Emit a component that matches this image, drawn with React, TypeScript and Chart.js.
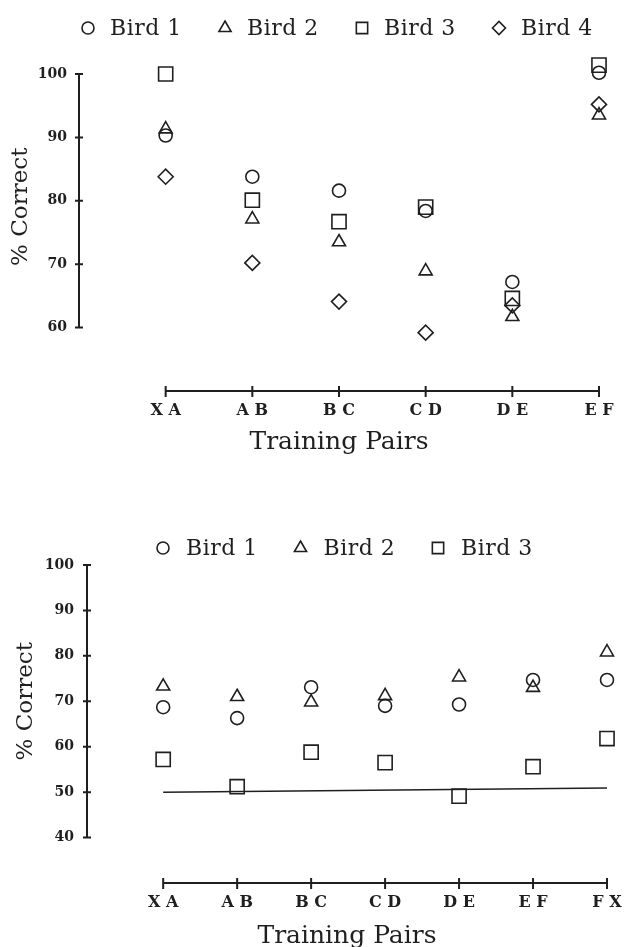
import React, { useEffect, useRef } from 'react';
import { Chart, registerables } from 'chart.js';
import { drawPoint } from 'chart.js/helpers';

Chart.register(...registerables);

// ---------- data: upper panel ----------
const topPairs = ['XA', 'AB', 'BC', 'CD', 'DE', 'EF'];
const topBird1 = [90.3, 83.8, 81.6, 78.4, 67.2, 100.2];
const topBird2 = [91.3, 77.1, 73.5, 68.9, 61.7, 93.5];
const topBird3 = [100, 80.1, 76.7, 79.0, 64.6, 101.4];
const topBird4 = [83.8, 70.2, 64.1, 59.2, 63.5, 95.2];
const topTicks = [60, 70, 80, 90, 100];

// ---------- data: lower panel ----------
const bottomPairs = ['XA', 'AB', 'BC', 'CD', 'DE', 'EF', 'FX'];
const bottomBird1 = [68.7, 66.3, 73.1, 69.0, 69.3, 74.7, 74.7];
const bottomBird2 = [73.3, 71.0, 69.8, 71.2, 75.3, 73.0, 80.8];
const bottomBird3 = [57.2, 51.2, 58.8, 56.5, 49.1, 55.6, 61.8];
const bottomTicks = [40, 50, 60, 70, 80, 90, 100];
const chanceLevel = [50, 50.9]; // reference line, first pair -> last pair

const birdNames = ['Bird 1', 'Bird 2', 'Bird 3', 'Bird 4'];
const birdStyles = ['circle', 'triangle', 'rect', 'rectRot'];
const birdRadius = [6.5, 7.5, 10, 7.5];
const legendRadius = [6, 7, 8, 6.5];

const INK = '#1f1f1f';
const SERIF = '"DejaVu Serif", "Liberation Serif", serif';

const spaced = (s: string) => s.split('').join(' ');

const paperAxes = {
  id: 'paperAxes',
  beforeDatasetsDraw(chart: any, _args: any, opts: any) {
    const { ctx, chartArea } = chart;
    const xs = chart.scales.x;
    const ys = chart.scales.y;
    const ticks: number[] = opts.ticks;
    const from = ticks[0];
    const to = ticks[ticks.length - 1];
    ctx.save();
    ctx.strokeStyle = INK;
    ctx.lineWidth = 2;
    ctx.beginPath();
    const ax = chartArea.left;
    ctx.moveTo(ax, ys.getPixelForValue(from));
    ctx.lineTo(ax, ys.getPixelForValue(to));
    ticks.forEach((v) => {
      const py = ys.getPixelForValue(v);
      ctx.moveTo(ax - 4, py);
      ctx.lineTo(ax + 4, py);
    });
    const by = chartArea.bottom;
    ctx.moveTo(xs.getPixelForValue(0), by);
    ctx.lineTo(xs.getPixelForValue(opts.count - 1), by);
    for (let i = 0; i < opts.count; i++) {
      const px = xs.getPixelForValue(i);
      ctx.moveTo(px, by - 5);
      ctx.lineTo(px, by + 6);
    }
    ctx.stroke();
    // rotated y title, centred on the drawn part of the axis
    ctx.translate(opts.titleX, ys.getPixelForValue((from + to) / 2) + opts.titleShift);
    ctx.rotate(-Math.PI / 2);
    ctx.font = `23px ${SERIF}`;
    ctx.fillStyle = INK;
    ctx.textAlign = 'center';
    ctx.textBaseline = 'middle';
    ctx.fillText('% Correct', 0, 0);
    ctx.restore();
  },
};

const paperLegend = {
  id: 'paperLegend',
  afterDraw(chart: any, _args: any, opts: any) {
    const ctx = chart.ctx;
    ctx.save();
    ctx.font = `22px ${SERIF}`;
    ctx.textBaseline = 'middle';
    ctx.textAlign = 'left';
    (ctx as any).letterSpacing = '0.5px';
    ctx.strokeStyle = INK;
    ctx.lineWidth = 1.6;
    chart.data.datasets.forEach((ds: any, i: number) => {
      if (ds.type !== 'scatter') return;
      const cx = opts.x + i * opts.step;
      ctx.fillStyle = 'rgba(0,0,0,0)';
      drawPoint(
        ctx,
        { pointStyle: ds.pointStyle, radius: legendRadius[i], borderWidth: 1.6, rotation: 0 } as any,
        cx,
        opts.y
      );
      ctx.fillStyle = INK;
      ctx.fillText(ds.label, cx + opts.gap, opts.y + 1.5);
    });
    ctx.restore();
  },
};

function buildConfig(p: any) {
  const pairs: string[] = p.pairs;
  const series: number[][] = p.series;
  const datasets: any[] = series.map((vals, k) => ({
    type: 'scatter',
    label: birdNames[k],
    data: vals.map((v, i) => ({ x: i, y: v })),
    pointStyle: birdStyles[k],
    pointRadius: birdRadius[k],
    pointBorderWidth: 1.6,
    borderWidth: 1.6,
    borderColor: INK,
    pointBorderColor: INK,
    backgroundColor: 'rgba(0,0,0,0)',
    pointBackgroundColor: 'rgba(0,0,0,0)',
    clip: false,
  }));
  if (p.chance) {
    datasets.push({
      type: 'line',
      label: 'chance',
      data: [
        { x: 0, y: p.chance[0] },
        { x: pairs.length - 1, y: p.chance[1] },
      ],
      borderColor: INK,
      borderWidth: 1.5,
      pointRadius: 0,
      fill: false,
      clip: false,
    });
  }
  const ticks: number[] = p.ticks;
  return {
    type: 'scatter',
    data: { datasets },
    plugins: [paperAxes, paperLegend],
    options: {
      animation: false,
      responsive: false,
      devicePixelRatio: 1,
      events: [],
      layout: { padding: p.pad, autoPadding: false },
      plugins: {
        tooltip: { enabled: false },
        legend: { display: false },
        paperAxes: { ticks, count: pairs.length, titleX: p.titleX, titleShift: p.titleShift },
        paperLegend: p.legend,
      },
      scales: {
        x: {
          type: 'linear',
          min: p.xMin,
          max: pairs.length - 1,
          grid: { display: false, drawTicks: false },
          border: { display: false },
          ticks: {
            stepSize: 1,
            autoSkip: false,
            maxRotation: 0,
            padding: 10,
            color: INK,
            font: { family: SERIF, size: 16, weight: 'bold' },
            callback: (v: number) =>
              Number.isInteger(v) && v >= 0 && v < pairs.length ? spaced(pairs[v]) : null,
          },
          title: {
            display: true,
            text: 'Training Pairs',
            color: INK,
            padding: 0,
            font: { family: SERIF, size: 25 },
          },
          afterFit: (s: any) => {
            s.height = p.xHeight;
            s.paddingLeft = 0;
            s.paddingRight = 0;
          },
        },
        y: {
          type: 'linear',
          min: p.yMin,
          max: p.yMax,
          grid: { display: false, drawTicks: false },
          border: { display: false },
          ticks: {
            stepSize: 10,
            autoSkip: false,
            padding: p.tickPad,
            color: INK,
            font: { family: SERIF, size: 14, weight: 'bold' },
            callback: (v: number) => (ticks.includes(v) ? String(v) : null),
          },
          afterFit: (s: any) => {
            s.width = p.yWidth;
            s.paddingTop = 0;
            s.paddingBottom = 0;
          },
        },
      },
    },
  };
}

function PaperChart({ config, top, height }: { config: any; top: number; height: number }) {
  const ref = useRef<HTMLCanvasElement>(null);
  useEffect(() => {
    const chart = new Chart(ref.current as HTMLCanvasElement, config);
    return () => chart.destroy();
  }, []);
  return (
    <canvas
      ref={ref}
      width={624}
      height={height}
      style={{ position: 'absolute', left: 0, top, width: 624, height }}
    />
  );
}

const topConfig = buildConfig({
  pairs: topPairs,
  series: [topBird1, topBird2, topBird3, topBird4],
  ticks: topTicks,
  xMin: -1.0,
  yMin: 50,
  yMax: 100,
  pad: { left: 33, right: 25, top: 74, bottom: 23 },
  yWidth: 46,
  xHeight: 66,
  tickPad: 12,
  titleX: 21,
  titleShift: 6,
  legend: { x: 88, step: 137, gap: 22, y: 28 },
});

const bottomConfig = buildConfig({
  pairs: bottomPairs,
  series: [bottomBird1, bottomBird2, bottomBird3],
  ticks: bottomTicks,
  chance: chanceLevel,
  xMin: -1.03,
  yMin: 30,
  yMax: 100,
  pad: { left: 37, right: 17, top: 85, bottom: -4 },
  yWidth: 50,
  xHeight: 68,
  tickPad: 13,
  titleX: 26,
  titleShift: 0,
  legend: { x: 163, step: 137.5, gap: 23, y: 68 },
});

export default function App() {
  return (
    <div
      style={{
        position: 'absolute',
        left: 0,
        top: 0,
        width: 624,
        height: 947,
        background: '#ffffff',
        overflow: 'hidden',
      }}
    >
      <PaperChart config={topConfig} top={0} height={480} />
      <PaperChart config={bottomConfig} top={480} height={467} />
    </div>
  );
}
